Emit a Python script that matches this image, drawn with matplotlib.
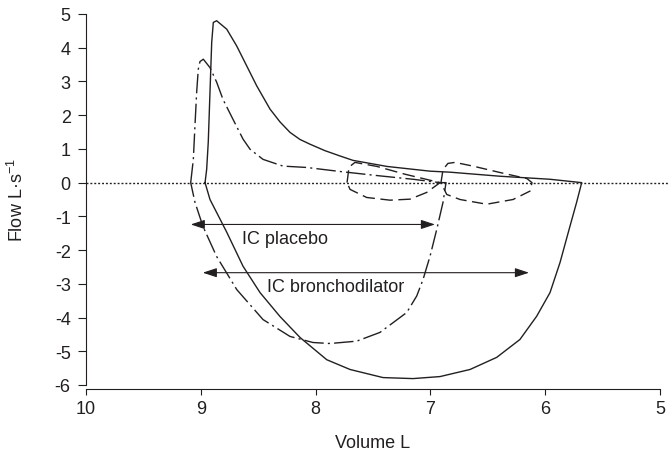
import matplotlib
matplotlib.use("Agg")
import matplotlib.pyplot as plt

# maximal flow-volume loop after bronchodilator (solid)
bd_vol = [8.963, 8.949, 8.935, 8.920, 8.905, 8.891, 8.862, 8.774, 8.687, 8.600, 8.513, 8.397,
          8.310, 8.223, 8.136, 8.049, 7.920, 7.787, 7.674, 7.378, 7.003, 6.829, 6.394, 5.958, 5.682,
          5.726, 5.784, 5.871, 5.958, 6.074, 6.220, 6.422, 6.655, 6.916, 7.152, 7.413,
          7.700, 7.903, 8.136, 8.310, 8.484, 8.632, 8.774, 8.920, 8.963]
bd_flow = [0, 0.39, 1.20, 2.68, 4.16, 4.75, 4.80, 4.55, 4.05, 3.46, 2.87, 2.18,
           1.80, 1.49, 1.28, 1.14, 0.95, 0.79, 0.66, 0.48, 0.34, 0.31, 0.19, 0.10, 0,
           -0.58, -1.29, -2.37, -3.26, -3.96, -4.65, -5.18, -5.54, -5.75, -5.81, -5.78,
           -5.54, -5.25, -4.59, -3.97, -3.26, -2.48, -1.47, -0.50, 0]

# maximal flow-volume loop after placebo (dash-dot)
pl_vol = [9.088, 9.065, 9.051, 9.036, 9.022, 9.007, 8.978, 8.920, 8.862, 8.807, 8.720, 8.632,
          8.571, 8.458, 8.284, 8.078, 7.787, 7.439, 7.152, 6.916,
          6.864, 6.890, 6.945, 7.003, 7.064, 7.119, 7.206, 7.439, 7.642, 7.875, 8.023,
          8.223, 8.458, 8.687, 8.862, 8.981, 9.051, 9.088]
pl_flow = [0, 0.69, 1.68, 2.68, 3.36, 3.59, 3.66, 3.41, 2.98, 2.47, 1.88, 1.29,
           0.99, 0.69, 0.49, 0.45, 0.33, 0.20, 0.10, 0,
           0, -0.58, -1.39, -2.18, -2.87, -3.36, -3.85, -4.44, -4.70, -4.77, -4.74,
           -4.56, -4.06, -3.17, -2.19, -1.30, -0.58, 0]

# tidal loops (dashed)
pl_tidal_vol = [7.726, 7.709, 7.657, 7.465, 7.222, 6.916, 7.032, 7.178, 7.352, 7.555, 7.700, 7.726]
pl_tidal_flow = [0, 0.46, 0.60, 0.48, 0.25, 0, -0.29, -0.49, -0.52, -0.44, -0.20, 0]

bd_tidal_vol = [6.908, 6.890, 6.847, 6.786, 6.629, 6.394, 6.159, 6.115,
                6.132, 6.280, 6.510, 6.742, 6.858, 6.908]
bd_tidal_flow = [0, 0.39, 0.57, 0.60, 0.49, 0.30, 0.12, 0,
                 -0.25, -0.50, -0.64, -0.50, -0.35, 0]

# inspiratory capacity arrows
ic_labels = ["IC placebo", "IC bronchodilator"]
ic_start = [9.088, 8.983]
ic_end = [6.960, 6.141]
ic_flow = [-1.24, -2.67]
ic_text_vol = [8.644, 8.421]
ic_text_flow = [-1.80, -3.22]

x_ticks = [10, 9, 8, 7, 6, 5]
y_ticks = [5, 4, 3, 2, 1, 0, -1, -2, -3, -4, -5, -6]

ink = "#231f20"
fs = 13
plt.rcParams["font.family"] = ["Liberation Sans", "DejaVu Sans"]
plt.rcParams["mathtext.fontset"] = "custom"
plt.rcParams["mathtext.rm"] = "Liberation Sans"

fig = plt.figure(figsize=(6.7, 4.56), dpi=100)
ax = fig.add_axes([86 / 670, 1 - 386 / 456, 574 / 670, 371 / 456])

ax.axhline(0, xmin=0, xmax=1.014, color=ink, lw=1.0, linestyle=(0, (1.4, 1.4)), clip_on=False)

ax.plot(bd_vol, bd_flow, color=ink, lw=1.0)
ax.plot(pl_vol, pl_flow, color=ink, lw=1.0, linestyle=(0, (14, 3, 1.5, 3)))
ax.plot(pl_tidal_vol, pl_tidal_flow, color=ink, lw=1.0, linestyle=(0, (9, 4)))
ax.plot(bd_tidal_vol, bd_tidal_flow, color=ink, lw=1.0, linestyle=(0, (8, 4)))

for lab, v0, v1, f, tv, tf in zip(ic_labels, ic_start, ic_end, ic_flow, ic_text_vol, ic_text_flow):
    ax.annotate("", xy=(v0, f), xytext=(v1, f),
                arrowprops=dict(arrowstyle="<|-|>,head_length=0.85,head_width=0.28",
                                color=ink, lw=0.8, shrinkA=0, shrinkB=0))
    ax.text(tv, tf, lab, fontsize=fs, color=ink, ha="left", va="baseline")

ax.set_xlim(10, 5)
ax.set_ylim(-6, 5)
ax.set_xticks(x_ticks)
ax.set_yticks(y_ticks)
ax.set_xticklabels([str(t) for t in x_ticks])
ax.set_yticklabels([str(t) for t in y_ticks])

for side in ["top", "right"]:
    ax.spines[side].set_visible(False)
for side in ["left", "bottom"]:
    ax.spines[side].set_color(ink)
    ax.spines[side].set_linewidth(0.8)
ax.spines["bottom"].set_position(("outward", 3))

ax.tick_params(axis="y", direction="out", length=6, width=0.8, pad=5, colors=ink, labelsize=fs)
ax.tick_params(axis="x", direction="out", length=4, width=0.8, pad=4, colors=ink, labelsize=fs)

ax.set_xlabel("Volume L", fontsize=fs, color=ink, labelpad=12)
ax.set_ylabel(r"Flow L·s$^{\mathregular{-1}}$", fontsize=fs, color=ink)
ax.yaxis.set_label_coords(-0.103, 0.5)

fig.savefig("out.png", dpi=100)
